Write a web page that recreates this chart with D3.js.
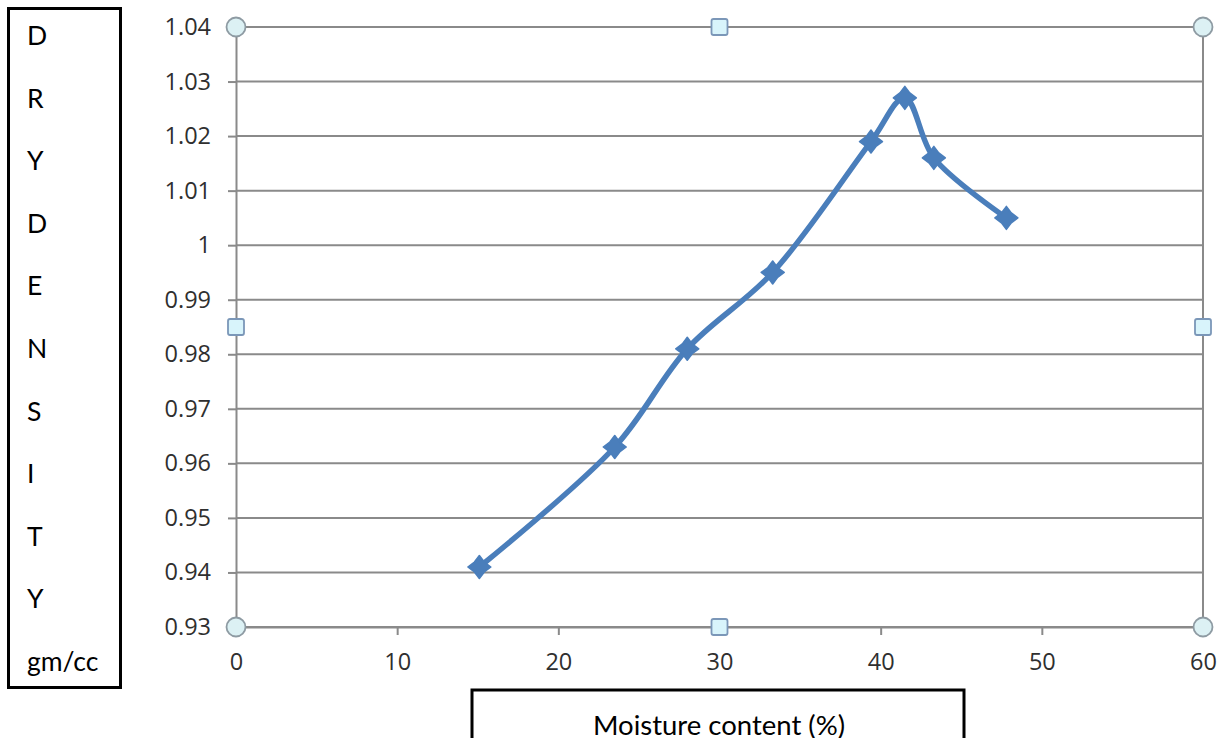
<!DOCTYPE html>
<html>
<head>
<meta charset="utf-8">
<script src="https://cdn.jsdelivr.net/npm/d3@7"></script>
<style>
  html, body { margin: 0; padding: 0; background: #fff; }
  svg { display: block; }
</style>
</head>
<body>
<svg id="chart" width="1225" height="738"></svg>
<script>
// Compaction test: dry density against moisture content
const moisture = [15.1, 23.5, 28.0, 33.3, 39.4, 41.5, 43.3, 47.8];
const density  = [0.941, 0.963, 0.981, 0.995, 1.019, 1.027, 1.016, 1.005];

const xTicks = [0, 10, 20, 30, 40, 50, 60];
const yTicks = [0.93, 0.94, 0.95, 0.96, 0.97, 0.98, 0.99, 1.00, 1.01, 1.02, 1.03, 1.04];
const yTickLabels = ["0.93", "0.94", "0.95", "0.96", "0.97", "0.98", "0.99", "1", "1.01", "1.02", "1.03", "1.04"];

const yLetters = ["D", "R", "Y", "D", "E", "N", "S", "I", "T", "Y", "gm/cc"];
const xTitle = "Moisture content (%)";

const svg = d3.select("#chart");

const x = d3.scaleLinear().domain([0, 60]).range([236, 1203]);
const y = d3.scaleLinear().domain([0.93, 1.04]).range([627, 27]);

const gridColor = "#8a8a8a";
const tickFont = "'Open Sans', 'DejaVu Sans', sans-serif";
const textFont = "Lato, 'Open Sans', sans-serif";

// Horizontal gridlines
svg.append("g")
  .selectAll("line")
  .data(yTicks)
  .join("line")
  .attr("x1", x(0)).attr("x2", x(60))
  .attr("y1", d => y(d)).attr("y2", d => y(d))
  .attr("stroke", gridColor).attr("stroke-width", 2);

// Right border of the plot area
svg.append("line")
  .attr("x1", x(60)).attr("x2", x(60))
  .attr("y1", y(1.04)).attr("y2", y(0.93))
  .attr("stroke", gridColor).attr("stroke-width", 2);

// Y axis
const yAxis = d3.axisLeft(y)
  .tickValues(yTicks)
  .tickFormat((d, i) => yTickLabels[i])
  .tickSize(8)
  .tickPadding(17);
const gy = svg.append("g").attr("transform", `translate(${x(0)},0)`).call(yAxis);
gy.select(".domain").attr("stroke", gridColor).attr("stroke-width", 2);
gy.selectAll(".tick line").attr("stroke", gridColor).attr("stroke-width", 2);
gy.selectAll(".tick text")
  .attr("fill", "#2f2f2f")
  .style("font-family", tickFont)
  .style("font-size", "23.5px");

// X axis
const xAxis = d3.axisBottom(x)
  .tickValues(xTicks)
  .tickFormat(d3.format("d"))
  .tickSize(8)
  .tickPadding(18);
const gx = svg.append("g").attr("transform", `translate(0,${y(0.93)})`).call(xAxis);
gx.select(".domain").attr("stroke", gridColor).attr("stroke-width", 2);
gx.selectAll(".tick line").attr("stroke", gridColor).attr("stroke-width", 2);
gx.selectAll(".tick text")
  .attr("fill", "#2f2f2f")
  .style("font-family", tickFont)
  .style("font-size", "23.5px");

// Smoothed data line
const pts = moisture.map((m, i) => [m, density[i]]);
const line = d3.line()
  .x(d => x(d[0]))
  .y(d => y(d[1]))
  .curve(d3.curveCatmullRom.alpha(0.5));

svg.append("path")
  .datum(pts)
  .attr("d", line)
  .attr("fill", "none")
  .attr("stroke", "#4a7ebb")
  .attr("stroke-width", 5.5)
  .attr("stroke-linejoin", "round")
  .attr("stroke-linecap", "round");

// Four-point star markers
function starPath(R, r) {
  const p = [];
  for (let k = 0; k < 8; k++) {
    const a = -Math.PI / 2 + k * Math.PI / 4;
    const rad = k % 2 === 0 ? R : r;
    p.push([rad * Math.cos(a), rad * Math.sin(a)]);
  }
  return "M" + p.map(q => q.join(",")).join("L") + "Z";
}
svg.append("g")
  .selectAll("path")
  .data(pts)
  .join("path")
  .attr("d", starPath(11.5, 7))
  .attr("transform", d => `translate(${x(d[0])},${y(d[1])})`)
  .attr("fill", "#4a7ebb")
  .attr("stroke", "#4a7ebb")
  .attr("stroke-width", 1.5)
  .attr("stroke-linejoin", "round");

// Selection handles on the plot frame
const cornerHandles = [[0, 1.04], [60, 1.04], [0, 0.93], [60, 0.93]];
const sideHandles = [[30, 1.04], [30, 0.93], [0, 0.985], [60, 0.985]];

svg.append("g")
  .selectAll("circle")
  .data(cornerHandles)
  .join("circle")
  .attr("cx", d => x(d[0])).attr("cy", d => y(d[1]))
  .attr("r", 9.5)
  .attr("fill", "#dcf1f4")
  .attr("stroke", "#8e9ba3")
  .attr("stroke-width", 1.8);

svg.append("g")
  .selectAll("rect")
  .data(sideHandles)
  .join("rect")
  .attr("x", d => x(d[0]) - 8).attr("y", d => y(d[1]) - 8)
  .attr("width", 16).attr("height", 16)
  .attr("rx", 2)
  .attr("fill", "#d8f4fb")
  .attr("stroke", "#7b97b8")
  .attr("stroke-width", 1.8);

// Y axis title box with stacked letters
svg.append("rect")
  .attr("x", 8.5).attr("y", 8.5)
  .attr("width", 112).attr("height", 679)
  .attr("fill", "none")
  .attr("stroke", "#000")
  .attr("stroke-width", 3);

svg.append("g")
  .selectAll("text")
  .data(yLetters)
  .join("text")
  .attr("x", 27)
  .attr("y", (d, i) => 45 + i * 62.6)
  .attr("fill", "#000")
  .style("font-family", textFont)
  .style("font-size", "26.5px")
  .text(d => d);

// X axis title box
svg.append("rect")
  .attr("x", 472).attr("y", 690)
  .attr("width", 492).attr("height", 80)
  .attr("fill", "none")
  .attr("stroke", "#000")
  .attr("stroke-width", 3);

svg.append("text")
  .attr("x", 719).attr("y", 735)
  .attr("text-anchor", "middle")
  .attr("fill", "#000")
  .style("font-family", textFont)
  .style("font-size", "27.5px")
  .text(xTitle);
</script>
</body>
</html>
